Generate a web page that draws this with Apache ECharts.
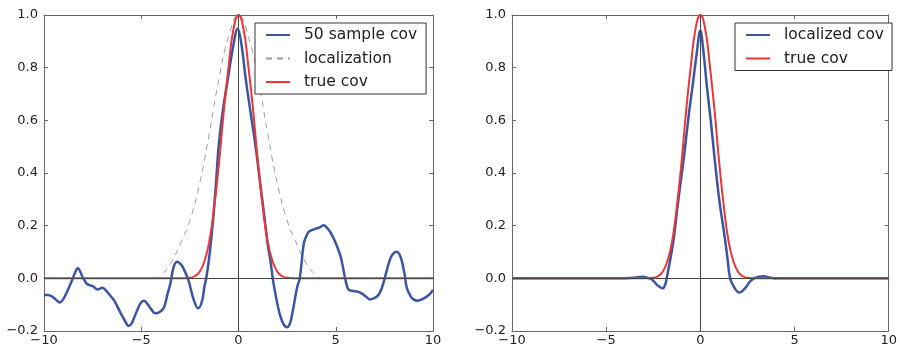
<!DOCTYPE html>
<html>
<head>
<meta charset="utf-8">
<script src="https://cdn.jsdelivr.net/npm/echarts@6/dist/echarts.min.js"></script>
<style>
  html, body { margin: 0; padding: 0; background: #fff; }
  #chart { width: 900px; height: 347px; }
</style>
</head>
<body>
<div id="chart"></div>
<script>
// x ticks and y ticks shared by both panels
const xTicks = [-10, -5, 0, 5, 10];
const yTicks = [-0.2, 0.0, 0.2, 0.4, 0.6, 0.8, 1.0];

// left panel: 50 sample covariance
const sampleX = [-10, -9.67, -9.4, -9.19, -9.0, -8.81, -8.55, -8.4, -8.26, -8.1, -8.03, -7.9, -7.78, -7.52, -7.4, -7.26, -7.0, -6.77, -6.6, -6.41, -6.07, -5.85, -5.64, -5.5, -5.38, -5.2, -5.04, -4.87, -4.7, -4.53, -4.27, -4.05, -3.84, -3.65, -3.5, -3.33, -3.15, -3.0, -2.9, -2.72, -2.55, -2.3, -2.07, -1.87, -1.75, -1.66, -1.53, -1.4, -1.27, -1.14, -1.01, -0.78, -0.53, -0.3, -0.04, 0.15, 0.36, 0.6, 0.87, 1.1, 1.3, 1.5, 1.65, 1.76, 1.9, 2.1, 2.3, 2.5, 2.65, 2.8, 3.02, 3.15, 3.36, 3.5, 3.62, 3.8, 4.04, 4.2, 4.38, 4.55, 4.71, 4.9, 5.1, 5.24, 5.35, 5.5, 5.67, 5.9, 6.1, 6.3, 6.44, 6.6, 6.75, 6.95, 7.13, 7.26, 7.39, 7.5, 7.63, 7.76, 7.89, 8.12, 8.33, 8.53, 8.66, 8.87, 9.0, 9.19, 9.35, 9.53, 9.7, 9.87, 10];
const sampleY = [-0.062, -0.066, -0.08, -0.092, -0.078, -0.05, -0.006, 0.022, 0.038, 0.02, 0.006, -0.01, -0.022, -0.029, -0.035, -0.042, -0.036, -0.05, -0.065, -0.082, -0.13, -0.16, -0.181, -0.172, -0.152, -0.12, -0.095, -0.085, -0.095, -0.113, -0.133, -0.128, -0.112, -0.06, -0.019, 0.044, 0.063, 0.056, 0.047, 0.02, -0.013, -0.082, -0.114, -0.085, -0.03, 0.0, 0.065, 0.15, 0.253, 0.38, 0.51, 0.65, 0.764, 0.87, 0.948, 0.89, 0.764, 0.64, 0.505, 0.37, 0.253, 0.13, 0.063, 0.0, -0.06, -0.13, -0.172, -0.186, -0.17, -0.12, -0.032, 0.0, 0.133, 0.162, 0.177, 0.184, 0.19, 0.194, 0.202, 0.192, 0.177, 0.15, 0.115, 0.085, 0.05, -0.006, -0.044, -0.048, -0.05, -0.056, -0.063, -0.072, -0.08, -0.076, -0.068, -0.055, -0.032, -0.005, 0.032, 0.065, 0.088, 0.101, 0.082, 0.019, -0.038, -0.07, -0.08, -0.085, -0.082, -0.076, -0.068, -0.057, -0.044];

// localization taper
const locX = [-10, -4.25, -4, -3.5, -3, -2.5, -2, -1.5, -1, -0.5, 0, 0.5, 1, 1.5, 2, 2.5, 3, 3.5, 4, 4.25, 10];
const locY = [0, 0, 0.01, 0.055, 0.13, 0.22, 0.36, 0.55, 0.76, 0.92, 1.0, 0.92, 0.76, 0.55, 0.36, 0.22, 0.13, 0.055, 0.01, 0, 0];

// true covariance (same in both panels)
const trueX = [-10, -3, -2.5, -2.25, -2, -1.75, -1.5, -1.25, -1, -0.75, -0.5, -0.25, 0, 0.25, 0.5, 0.75, 1, 1.25, 1.5, 1.75, 2, 2.25, 2.5, 3, 10];
const trueY = [0, 0, 0.002, 0.008, 0.025, 0.065, 0.14, 0.27, 0.44, 0.64, 0.81, 0.95, 1.0, 0.95, 0.81, 0.64, 0.44, 0.27, 0.14, 0.065, 0.025, 0.008, 0.002, 0, 0];

// right panel: localized covariance
const localX = [-10, -4, -3.5, -3.07, -2.8, -2.56, -2.3, -2.0, -1.85, -1.79, -1.6, -1.4, -1.2, -1.0, -0.85, -0.6, -0.42, -0.2, 0, 0.15, 0.35, 0.55, 0.73, 1.0, 1.29, 1.45, 1.58, 1.8, 2.07, 2.4, 2.6, 2.84, 3.1, 3.35, 3.7, 4, 10];
const localY = [0, 0, 0.002, 0.006, 0.002, -0.005, -0.025, -0.038, -0.02, 0, 0.07, 0.158, 0.28, 0.39, 0.474, 0.63, 0.726, 0.85, 0.941, 0.87, 0.726, 0.6, 0.474, 0.3, 0.158, 0.07, 0, -0.035, -0.054, -0.035, -0.015, 0, 0.006, 0.008, 0.003, 0, 0];

const pairs = (xs, ys) => xs.map((x, i) => [x, ys[i]]);

const FONT = 'DejaVu Sans';
const BLUE = '#3a55a4';
const RED = '#ec3535';
const FRAME = '#666';

const fmtX = v => String(v).replace('-', '\u2212');
const fmtY = v => (Math.abs(v) < 1e-9 ? '0.0' : v.toFixed(1).replace('-', '\u2212'));

function xAx(grid, pos) {
  return {
    type: 'value', gridIndex: grid, position: pos,
    min: xTicks[0], max: xTicks[xTicks.length - 1], interval: 5,
    axisLine: { onZero: false, lineStyle: { color: FRAME, width: 1 } },
    axisTick: { inside: true, length: 4, lineStyle: { color: FRAME } },
    axisLabel: { show: pos === 'bottom', formatter: fmtX, color: '#222', fontFamily: FONT, fontSize: 13, margin: 3 },
    splitLine: { show: false }
  };
}
function yAx(grid, pos) {
  return {
    type: 'value', gridIndex: grid, position: pos,
    min: yTicks[0], max: yTicks[yTicks.length - 1], interval: 0.2,
    axisLine: { onZero: false, lineStyle: { color: FRAME, width: 1 } },
    axisTick: { inside: true, length: 4, lineStyle: { color: FRAME } },
    axisLabel: { show: pos === 'left', formatter: fmtY, color: '#222', fontFamily: FONT, fontSize: 13, margin: 6 },
    splitLine: { show: false }
  };
}

const zeroLines = (xi, yi) => ({
  type: 'line', xAxisIndex: xi, yAxisIndex: yi, data: [], z: 1,
  markLine: {
    silent: true, symbol: 'none', label: { show: false },
    lineStyle: { color: '#444', width: 1, type: 'solid' },
    data: [{ yAxis: 0 }, { xAxis: 0 }]
  }
});

const curve = (name, xi, yi, data, color, width, type, z, smooth) => ({
  name, type: 'line', xAxisIndex: xi, yAxisIndex: yi, data,
  showSymbol: false, symbol: 'none', smooth, z,
  lineStyle: { color, width, type }, itemStyle: { color }
});

const legendBase = {
  orient: 'vertical', itemWidth: 24, itemHeight: 14, itemGap: 7.5,
  backgroundColor: '#fff', borderColor: '#333', borderWidth: 1, borderRadius: 0,
  itemStyle: { opacity: 0 },
  textStyle: { fontFamily: FONT, fontSize: 15.5, color: '#222', padding: [0, 0, 0, 9], lineHeight: 14 },
  selectedMode: false
};

const chart = echarts.init(document.getElementById('chart'), null, { renderer: 'canvas' });
chart.setOption({
  animation: false,
  backgroundColor: '#fff',
  grid: [
    { left: 44, top: 15, width: 389, height: 316 },
    { left: 512, top: 15, width: 389, height: 316 }
  ],
  xAxis: [xAx(0, 'bottom'), xAx(0, 'top'), xAx(1, 'bottom'), xAx(1, 'top')],
  yAxis: [yAx(0, 'left'), yAx(0, 'right'), yAx(1, 'left'), yAx(1, 'right')],
  legend: [
    Object.assign({}, legendBase, {
      left: 255, top: 23, padding: [4, 9, 4, 10],
      data: ['50 sample cov', 'localization', 'true cov']
    }),
    Object.assign({}, legendBase, {
      left: 735, top: 23, padding: [4, 8, 4, 10],
      data: ['localized cov', 'true cov ']
    })
  ],
  series: [
    zeroLines(0, 0),
    curve('50 sample cov', 0, 0, pairs(sampleX, sampleY), BLUE, 2.5, 'solid', 3, 0.4),
    curve('localization', 0, 0, pairs(locX, locY), '#9a9a9a', 1, [6, 5], 2, 0.5),
    curve('true cov', 0, 0, pairs(trueX, trueY), RED, 2, 'solid', 4, 0.5),
    zeroLines(2, 2),
    curve('localized cov', 2, 2, pairs(localX, localY), BLUE, 2.5, 'solid', 3, 0.4),
    curve('true cov ', 2, 2, pairs(trueX, trueY), RED, 2, 'solid', 4, 0.5)
  ]
});
</script>
</body>
</html>
